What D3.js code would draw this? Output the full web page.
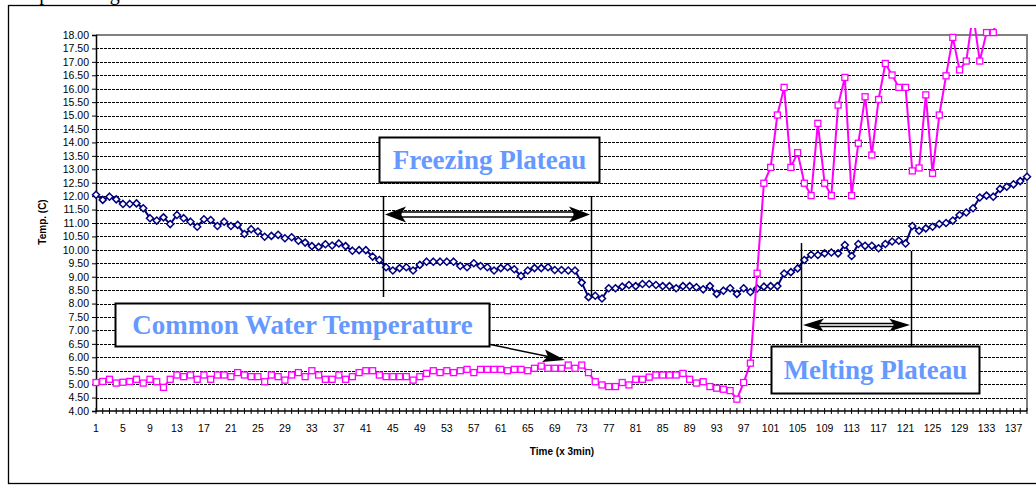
<!DOCTYPE html>
<html>
<head>
<meta charset="utf-8">
<script src="https://cdn.jsdelivr.net/npm/d3@7/dist/d3.min.js"></script>
<style>
    body { margin: 0; background: #fff; }
    svg { display: block; }
</style>
</head>
<body>
<div id="chart"></div>
<script>
// sample temperature (navy diamonds), one value per 3 min
const sampleTemp = [
    12.05, 11.86, 11.98, 11.88, 11.71, 11.71, 11.73, 11.55, 11.18, 11.09,
    11.21, 10.96, 11.30, 11.18, 11.05, 10.86, 11.14, 11.11, 10.89, 11.05,
    10.89, 10.93, 10.59, 10.77, 10.68, 10.49, 10.52, 10.56, 10.43, 10.47,
    10.34, 10.27, 10.14, 10.11, 10.21, 10.16, 10.24, 10.14, 9.97, 9.99,
    9.99, 9.75, 9.62, 9.35, 9.23, 9.32, 9.35, 9.23, 9.44, 9.56,
    9.56, 9.56, 9.56, 9.56, 9.40, 9.35, 9.50, 9.40, 9.35, 9.23,
    9.32, 9.35, 9.28, 9.03, 9.23, 9.32, 9.32, 9.35, 9.25, 9.25,
    9.23, 9.23, 8.78, 8.24, 8.29, 8.19, 8.57, 8.57, 8.63, 8.69,
    8.65, 8.73, 8.73, 8.69, 8.65, 8.65, 8.57, 8.65, 8.65, 8.61,
    8.53, 8.65, 8.36, 8.48, 8.57, 8.36, 8.57, 8.43, 8.56, 8.63,
    8.65, 8.65, 9.12, 9.17, 9.31, 9.62, 9.82, 9.81, 9.87, 9.90,
    9.87, 10.18, 9.77, 10.22, 10.15, 10.15, 10.06, 10.22, 10.31, 10.34,
    10.24, 10.89, 10.71, 10.80, 10.86, 10.96, 11.00, 11.09, 11.30, 11.39,
    11.55, 11.95, 12.02, 11.98, 12.27, 12.35, 12.44, 12.56, 12.72
];

// common water temperature (magenta squares)
const waterTemp = [
    5.06, 5.10, 5.18, 5.04, 5.07, 5.10, 5.18, 5.04, 5.18, 5.09,
    4.88, 5.18, 5.34, 5.28, 5.34, 5.18, 5.34, 5.18, 5.34, 5.34,
    5.28, 5.43, 5.34, 5.28, 5.28, 5.09, 5.34, 5.28, 5.15, 5.34,
    5.43, 5.28, 5.50, 5.34, 5.18, 5.18, 5.34, 5.18, 5.28, 5.43,
    5.50, 5.50, 5.34, 5.28, 5.28, 5.28, 5.28, 5.15, 5.28, 5.40,
    5.50, 5.43, 5.50, 5.43, 5.50, 5.55, 5.43, 5.55, 5.55, 5.55,
    5.55, 5.50, 5.55, 5.55, 5.50, 5.59, 5.67, 5.59, 5.59, 5.59,
    5.71, 5.59, 5.71, 5.43, 5.09, 4.97, 4.91, 4.91, 5.06, 4.97,
    5.18, 5.18, 5.26, 5.34, 5.34, 5.34, 5.34, 5.40, 5.18, 5.04,
    5.09, 4.91, 4.85, 4.81, 4.76, 4.44, 5.06, 5.78, 9.13, 12.48,
    13.07, 15.02, 16.05, 13.07, 13.62, 12.48, 12.02, 14.71, 12.48, 12.02,
    15.39, 16.42, 12.02, 13.97, 15.70, 13.53, 15.60, 16.94, 16.51, 16.05,
    16.05, 12.94, 13.05, 15.77, 12.85, 15.02, 16.48, 17.91, 16.70, 17.03,
    18.80, 17.03, 18.09, 18.09, 19.00, 19.20, 19.50, 19.80, 20.10
];

const yTicks = d3.range(4, 18.001, 0.5);
const xLabelTicks = d3.range(1, 139, 4);   // 1, 5, 9 ... 137

document.addEventListener("DOMContentLoaded", function() {
    const width = 1036;
    const height = 487;
    const plot = { left: 96, right: 1027, top: 35, bottom: 411 };

    const svg = d3.select("#chart")
        .append("svg")
        .attr("width", width)
        .attr("height", height);

    const x = d3.scaleLinear().domain([1, sampleTemp.length]).range([plot.left, plot.right]);
    const y = d3.scaleLinear().domain([4, 18]).range([plot.bottom, plot.top]);

    // page heading above the frame, cut by the top edge as in the scan
    svg.append("text")
        .attr("x", 4).attr("y", 0)
        .attr("font-family", "'Liberation Serif', 'Times New Roman', serif")
        .attr("font-size", 20)
        .text("Temperature gradient");

    // chart frame
    svg.append("rect")
        .attr("x", 8.5).attr("y", 5.5)
        .attr("width", 1040).attr("height", 478)
        .attr("fill", "none")
        .attr("stroke", "#000")
        .attr("stroke-width", 1.3);

    // horizontal dashed gridlines
    svg.append("g")
        .selectAll("line")
        .data(yTicks.filter(t => t > 4 && t < 18))
        .join("line")
        .attr("x1", plot.left).attr("x2", plot.right)
        .attr("y1", d => Math.round(y(d)) + 0.5)
        .attr("y2", d => Math.round(y(d)) + 0.5)
        .attr("stroke", "#000")
        .attr("stroke-width", 1)
        .attr("stroke-dasharray", "3,1");

    // gray plot border (top and right)
    svg.append("path")
        .attr("d", `M${plot.left},${plot.top} H${plot.right} V${plot.bottom}`)
        .attr("fill", "none")
        .attr("stroke", "#808080")
        .attr("stroke-width", 2);

    // y axis
    const yAxis = svg.append("g")
        .attr("transform", `translate(${plot.left},0)`)
        .call(d3.axisLeft(y).tickValues(yTicks).tickFormat(d3.format(".2f")).tickSize(4).tickPadding(3));
    yAxis.select(".domain").attr("stroke", "#000").attr("stroke-width", 1.5);
    yAxis.selectAll("text")
        .attr("font-family", "'Liberation Sans', Arial, sans-serif")
        .attr("font-size", 10.5)
        .attr("fill", "#000");

    // x axis: tick at every category, label every fourth
    const xAxis = svg.append("g")
        .attr("transform", `translate(0,${plot.bottom})`);
    xAxis.append("line")
        .attr("x1", plot.left).attr("x2", plot.right)
        .attr("stroke", "#000").attr("stroke-width", 1.5);
    xAxis.selectAll("line.tick")
        .data(d3.range(1, sampleTemp.length + 1))
        .join("line")
        .attr("class", "tick")
        .attr("x1", d => x(d)).attr("x2", d => x(d))
        .attr("y1", -3).attr("y2", 3)
        .attr("stroke", "#000").attr("stroke-width", 1);
    xAxis.selectAll("text")
        .data(xLabelTicks)
        .join("text")
        .attr("x", d => x(d))
        .attr("y", 21)
        .attr("text-anchor", "middle")
        .attr("font-family", "'Liberation Sans', Arial, sans-serif")
        .attr("font-size", 10.5)
        .text(d => d);

    // axis titles
    svg.append("text")
        .attr("x", 562).attr("y", 455)
        .attr("text-anchor", "middle")
        .attr("font-family", "'Liberation Sans', Arial, sans-serif")
        .attr("font-size", 10)
        .attr("font-weight", "bold")
        .text("Time (x 3min)");

    svg.append("text")
        .attr("transform", "translate(46,222) rotate(-90)")
        .attr("text-anchor", "middle")
        .attr("font-family", "'Liberation Sans', Arial, sans-serif")
        .attr("font-size", 10)
        .attr("font-weight", "bold")
        .text("Temp. (C)");

    // series
    svg.append("clipPath").attr("id", "plotClip")
        .append("rect")
        .attr("x", plot.left).attr("y", plot.top - 7)
        .attr("width", plot.right - plot.left + 6)
        .attr("height", plot.bottom - plot.top + 7);

    const line = d3.line().x((d, i) => x(i + 1)).y(d => y(d));

    svg.append("path")
        .datum(sampleTemp)
        .attr("clip-path", "url(#plotClip)")
        .attr("fill", "none")
        .attr("stroke", "#000080")
        .attr("stroke-width", 2)
        .attr("d", line);

    svg.append("g")
        .selectAll("path")
        .data(sampleTemp)
        .join("path")
        .attr("transform", (d, i) => `translate(${x(i + 1)},${y(d)})`)
        .attr("d", "M0,-3.5L3.5,0L0,3.5L-3.5,0Z")
        .attr("fill", "#fff")
        .attr("stroke", "#000080")
        .attr("stroke-width", 1.5);

    svg.append("path")
        .datum(waterTemp)
        .attr("clip-path", "url(#plotClip)")
        .attr("fill", "none")
        .attr("stroke", "#ff00ff")
        .attr("stroke-width", 2)
        .attr("d", line);

    svg.append("g")
        .selectAll("rect")
        .data(waterTemp.map((v, i) => ({ v, i })).filter(d => d.v <= 18.2))
        .join("rect")
        .attr("x", d => x(d.i + 1) - 3)
        .attr("y", d => y(d.v) - 3)
        .attr("width", 6).attr("height", 6)
        .attr("fill", "#fff")
        .attr("stroke", "#ff00ff")
        .attr("stroke-width", 1.3);

    // annotations
    const serif = "'Liberation Serif', 'Times New Roman', serif";

    function textBox(x0, y0, x1, y1, label, baseline) {
        svg.append("rect")
            .attr("x", x0).attr("y", y0)
            .attr("width", x1 - x0).attr("height", y1 - y0)
            .attr("fill", "#fff")
            .attr("stroke", "#000")
            .attr("stroke-width", 2);
        svg.append("text")
            .attr("x", (x0 + x1) / 2).attr("y", baseline)
            .attr("text-anchor", "middle")
            .attr("font-family", serif)
            .attr("font-size", 27)
            .attr("font-weight", "bold")
            .attr("fill", "#6699ff")
            .text(label);
    }

    function head(tipX, tipY, dir, len, half) {
        // dir = 1 points right, -1 points left
        const bx = tipX - dir * len;
        const nx = tipX - dir * len * 0.75;
        return `M${tipX},${tipY}L${bx},${tipY - half}L${nx},${tipY}L${bx},${tipY + half}Z`;
    }

    function doubleArrow(x0, x1, yy, len, half, shaft) {
        svg.append("rect")
            .attr("x", x0 + len * 0.75).attr("y", yy - shaft)
            .attr("width", x1 - x0 - len * 1.5).attr("height", shaft * 2)
            .attr("fill", "#fff")
            .attr("stroke", "#000")
            .attr("stroke-width", 1.5);
        svg.append("path").attr("d", head(x0, yy, -1, len, half)).attr("fill", "#000");
        svg.append("path").attr("d", head(x1, yy, 1, len, half)).attr("fill", "#000");
    }

    function vline(xx, y0, y1) {
        svg.append("line")
            .attr("x1", xx).attr("x2", xx)
            .attr("y1", y0).attr("y2", y1)
            .attr("stroke", "#000")
            .attr("stroke-width", 1.5);
    }

    // freezing plateau
    vline(383.5, 196, 297);
    vline(591.5, 196, 297);
    doubleArrow(385, 590, 214.5, 21, 8, 2.5);
    textBox(379.5, 137.5, 599.5, 182.5, "Freezing Plateau", 169);

    // melting plateau
    vline(801.5, 243, 343);
    vline(911.5, 251, 348);
    doubleArrow(803, 910, 325, 21, 6.5, 1.5);
    textBox(771.5, 346.5, 979.5, 393.5, "Melting Plateau", 379);

    // common water temperature
    svg.append("line")
        .attr("x1", 483).attr("y1", 343)
        .attr("x2", 548).attr("y2", 356.5)
        .attr("stroke", "#000").attr("stroke-width", 1.5);
    svg.append("path")
        .attr("d", "M565,360L542,362L548,356.5L545,349.5Z")
        .attr("fill", "#000");
    textBox(115.5, 303.5, 489.5, 346.5, "Common Water Temperature", 334);
});
</script>
</body>
</html>
